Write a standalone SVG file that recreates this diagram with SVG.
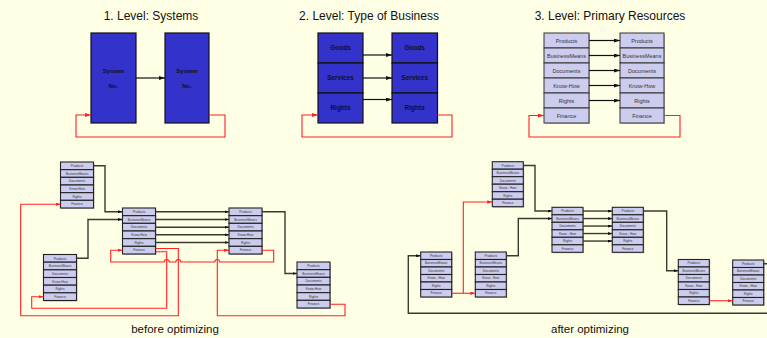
<svg xmlns="http://www.w3.org/2000/svg" width="767" height="338" viewBox="0 0 767 338">
<defs>
<style>
.title{font-family:"Liberation Sans",Arial,sans-serif;font-size:12px;fill:#111;text-anchor:middle}
.cap{font-family:"Liberation Sans",Arial,sans-serif;font-size:11.5px;fill:#111;text-anchor:middle}
.blue{fill:#3333cc;stroke:#111;stroke-width:1.2}
.bt{font-family:"Liberation Sans",Arial,sans-serif;font-size:6px;font-weight:bold;fill:#111;text-anchor:middle}
.bt2{font-family:"Liberation Sans",Arial,sans-serif;font-size:6.5px;font-weight:bold;fill:#111;text-anchor:middle}
.cell{fill:#ccccee;stroke:#333;stroke-width:1}
.cellb{fill:#ccccee;stroke:#222;stroke-width:1.1}
.ct{font-family:"Liberation Sans",Arial,sans-serif;font-size:5.5px;fill:#333;text-anchor:middle}
.st{font-family:"Liberation Sans",Arial,sans-serif;font-size:3.2px;fill:#333;text-anchor:middle}
.blk{fill:none;stroke:#111;stroke-width:1.2}
.dk{fill:none;stroke:#3a3a30;stroke-width:1.4}
.red{fill:none;stroke:#ff2020;stroke-width:1.1}
.sh{fill:#999;opacity:0.6}
</style>
<marker id="ab" viewBox="0 0 6 4" refX="6" refY="2" markerWidth="6" markerHeight="4" markerUnits="userSpaceOnUse" orient="auto"><path d="M0,0 L6,2 L0,4 Z" fill="#111"/></marker>
<marker id="ar" viewBox="0 0 6 4" refX="6" refY="2" markerWidth="6" markerHeight="4" markerUnits="userSpaceOnUse" orient="auto"><path d="M0,0 L6,2 L0,4 Z" fill="#ff2020"/></marker>
<marker id="sb" viewBox="0 0 6 4" refX="6" refY="2" markerWidth="4.5" markerHeight="3" markerUnits="userSpaceOnUse" orient="auto"><path d="M0,0 L6,2 L0,4 Z" fill="#111"/></marker>
<marker id="sr" viewBox="0 0 6 4" refX="6" refY="2" markerWidth="5" markerHeight="3.4" markerUnits="userSpaceOnUse" orient="auto"><path d="M0,0 L6,2 L0,4 Z" fill="#ff2020"/></marker>
<g id="stackL">
<rect class="sh" x="1" y="1" width="33" height="46"/>
<rect class="cellb" x="0" y="0" width="33" height="7.67"/>
<rect class="cellb" x="0" y="7.67" width="33" height="7.67"/>
<rect class="cellb" x="0" y="15.33" width="33" height="7.67"/>
<rect class="cellb" x="0" y="23" width="33" height="7.67"/>
<rect class="cellb" x="0" y="30.67" width="33" height="7.67"/>
<rect class="cellb" x="0" y="38.33" width="33" height="7.67"/>
<text class="st" x="16.5" y="5">Products</text>
<text class="st" x="16.5" y="12.7">BusinessMeans</text>
<text class="st" x="16.5" y="20.3">Documents</text>
<text class="st" x="16.5" y="28">Know-How</text>
<text class="st" x="16.5" y="35.7">Rights</text>
<text class="st" x="16.5" y="43.3">Finance</text>
</g>
<g id="stackR">
<rect class="sh" x="1" y="1" width="31" height="45"/>
<rect class="cellb" x="0" y="0" width="31" height="7.5"/>
<rect class="cellb" x="0" y="7.5" width="31" height="7.5"/>
<rect class="cellb" x="0" y="15" width="31" height="7.5"/>
<rect class="cellb" x="0" y="22.5" width="31" height="7.5"/>
<rect class="cellb" x="0" y="30" width="31" height="7.5"/>
<rect class="cellb" x="0" y="37.5" width="31" height="7.5"/>
<text class="st" x="15.5" y="4.9">Products</text>
<text class="st" x="15.5" y="12.4">BusinessMeans</text>
<text class="st" x="15.5" y="19.9">Documents</text>
<text class="st" x="15.5" y="27.4">Know - How</text>
<text class="st" x="15.5" y="34.9">Rights</text>
<text class="st" x="15.5" y="42.4">Finance</text>
</g>
</defs>
<rect x="0" y="0" width="767" height="338" fill="#ffffe6"/>

<text class="title" x="151" y="20">1. Level: Systems</text>
<text class="title" x="369" y="20">2. Level: Type of Business</text>
<text class="title" x="610" y="20">3. Level: Primary Resources</text>
<text class="cap" x="175" y="333">before optimizing</text>
<text class="cap" x="590" y="333">after optimizing</text>

<!-- Level 1 -->
<g id="sys1"><rect class="blue" x="91" y="33" width="45" height="90"/><text class="bt" x="113.5" y="73">System</text><text class="bt" x="113.5" y="88">No.</text></g>
<g id="sys2"><rect class="blue" x="165" y="33" width="44" height="90"/><text class="bt" x="187" y="73">System</text><text class="bt" x="187" y="88">No.</text></g>

<!-- Level 2 -->
<g id="bus1">
<rect class="blue" x="318" y="33" width="45" height="30"/><rect class="blue" x="318" y="63" width="45" height="30"/><rect class="blue" x="318" y="93" width="45" height="30"/>
<text class="bt2" x="340.5" y="50">Goods</text><text class="bt2" x="340.5" y="80">Services</text><text class="bt2" x="340.5" y="110">Rights</text>
</g>
<g id="bus2">
<rect class="blue" x="392" y="33" width="45.5" height="30"/><rect class="blue" x="392" y="63" width="45.5" height="30"/><rect class="blue" x="392" y="93" width="45.5" height="30"/>
<text class="bt2" x="414.7" y="50">Goods</text><text class="bt2" x="414.7" y="80">Services</text><text class="bt2" x="414.7" y="110">Rights</text>
</g>

<!-- Level 3 -->
<g id="res1">
<rect class="sh" x="545" y="34" width="45" height="90"/>
<rect class="cell" x="544" y="33" width="45" height="15"/><rect class="cell" x="544" y="48" width="45" height="15"/><rect class="cell" x="544" y="63" width="45" height="15"/><rect class="cell" x="544" y="78" width="45" height="15"/><rect class="cell" x="544" y="93" width="45" height="15"/><rect class="cell" x="544" y="108" width="45" height="15"/>
<text class="ct" x="566.5" y="42.5">Products</text><text class="ct" x="566.5" y="57.5">BusinessMeans</text><text class="ct" x="566.5" y="72.5">Documents</text><text class="ct" x="566.5" y="87.5">Know-How</text><text class="ct" x="566.5" y="102.5">Rights</text><text class="ct" x="566.5" y="117.5">Finance</text>
</g>
<g id="res2">
<rect class="sh" x="621" y="34" width="44" height="90"/>
<rect class="cell" x="620" y="33" width="44" height="15"/><rect class="cell" x="620" y="48" width="44" height="15"/><rect class="cell" x="620" y="63" width="44" height="15"/><rect class="cell" x="620" y="78" width="44" height="15"/><rect class="cell" x="620" y="93" width="44" height="15"/><rect class="cell" x="620" y="108" width="44" height="15"/>
<text class="ct" x="642" y="42.5">Products</text><text class="ct" x="642" y="57.5">BusinessMeans</text><text class="ct" x="642" y="72.5">Documents</text><text class="ct" x="642" y="87.5">Know-How</text><text class="ct" x="642" y="102.5">Rights</text><text class="ct" x="642" y="117.5">Finance</text>
</g>

<!-- before optimizing nodes -->
<g id="bA"><use href="#stackL" x="60.5" y="162"/></g>
<g id="bB"><use href="#stackL" x="43.5" y="254.5"/></g>
<g id="bC"><use href="#stackL" x="122.5" y="208"/></g>
<g id="bD"><use href="#stackL" x="229" y="208"/></g>
<g id="bE"><use href="#stackL" x="297" y="262"/></g>

<!-- after optimizing nodes -->
<g id="aF"><use href="#stackR" x="492.3" y="161.7"/></g>
<g id="aG"><use href="#stackR" x="420.7" y="252"/></g>
<g id="aH"><use href="#stackR" x="475.3" y="252"/></g>
<g id="aI"><use href="#stackR" x="552" y="207.3"/></g>
<g id="aJ"><use href="#stackR" x="612.3" y="207.3"/></g>
<g id="aK"><use href="#stackR" x="678.3" y="259.5"/></g>
<g id="aL"><use href="#stackR" x="732.7" y="260"/></g>

<g id="connectors">
<!-- level 1 -->
<path class="blk" d="M136,78 H165" marker-end="url(#ab)"/>
<path class="red" d="M209,115 H225 V137 H76 V115 H91" marker-end="url(#ar)"/>
<!-- level 2 -->
<path class="blk" d="M363,55 H392" marker-end="url(#ab)"/>
<path class="blk" d="M363,78 H392" marker-end="url(#ab)"/>
<path class="blk" d="M363,99.5 H392" marker-end="url(#ab)"/>
<path class="red" d="M437.5,115 H452 V137 H302 V115 H318" marker-end="url(#ar)"/>
<!-- level 3 -->
<path class="blk" d="M589,40.5 H620" marker-end="url(#ab)"/>
<path class="blk" d="M589,55.5 H620" marker-end="url(#ab)"/>
<path class="blk" d="M589,70.5 H620" marker-end="url(#ab)"/>
<path class="blk" d="M589,85.5 H620" marker-end="url(#ab)"/>
<path class="blk" d="M589,100.5 H620" marker-end="url(#ab)"/>
<path class="red" d="M664,115.5 H680 V137 H529 V115.5 H544" marker-end="url(#ar)"/>

<!-- before optimizing -->
<path class="dk" d="M93.5,165.8 H105 V211.8 H122.5" marker-end="url(#sb)"/>
<path class="dk" d="M76.5,258.3 H88 V219.5 H122.5" marker-end="url(#sb)"/>
<path class="dk" d="M155.5,211.8 H229" marker-end="url(#sb)"/>
<path class="dk" d="M155.5,219.5 H229" marker-end="url(#sb)"/>
<path class="dk" d="M155.5,227.2 H229" marker-end="url(#sb)"/>
<path class="dk" d="M155.5,234.8 H229" marker-end="url(#sb)"/>
<path class="dk" d="M155.5,242.5 H229" marker-end="url(#sb)"/>
<path class="dk" d="M262,211.8 H285 V273.5 H297" marker-end="url(#sb)"/>
<path class="red" d="M155.5,248.5 H178.3 V315.7 H20.7 V204.2 H60.5" marker-end="url(#sr)"/>
<path class="red" d="M155.5,251.7 H166.7 V308.3 H31.7 V296.7 H43.5" marker-end="url(#sr)"/>
<path class="red" d="M262,250.2 H273.7 V262 H219.8 A2.5,2.5 0 0 0 214.8,262 H180.8 A2.5,2.5 0 0 0 175.8,262 H169.2 A2.5,2.5 0 0 0 164.2,262 H110.7 V250.2 H122.5" marker-end="url(#sr)"/>
<path class="red" d="M330,304.2 H345 V315.7 H217.3 V250.2 H229" marker-end="url(#sr)"/>

<!-- after optimizing -->
<path class="red" d="M451.7,293.25 H475.3" marker-end="url(#sr)" stroke-width="1.6"/>
<path class="red" d="M463.3,293.25 V202 H492.3" marker-end="url(#sr)"/>
<path class="dk" d="M523.3,165.45 H535 V211.05 H552" marker-end="url(#sb)"/>
<path class="dk" d="M506.3,255.75 H518.3 V218.55 H552" marker-end="url(#sb)"/>
<path class="dk" d="M583,211.05 H612.3" marker-end="url(#sb)"/>
<path class="dk" d="M583,218.55 H612.3" marker-end="url(#sb)"/>
<path class="dk" d="M583,226.05 H612.3" marker-end="url(#sb)"/>
<path class="dk" d="M583,233.55 H612.3" marker-end="url(#sb)"/>
<path class="dk" d="M583,241.05 H612.3" marker-end="url(#sb)"/>
<path class="dk" d="M643.3,211.05 H666.7 V270.75 H678.3" marker-end="url(#sb)"/>
<path class="red" d="M709.3,300.75 H732.7" marker-end="url(#sr)"/>
<path class="dk" d="M763.7,263.75 H768 V313.3 H408.3 V255.75 H420.7" marker-end="url(#sb)"/>
</g>
</svg>
